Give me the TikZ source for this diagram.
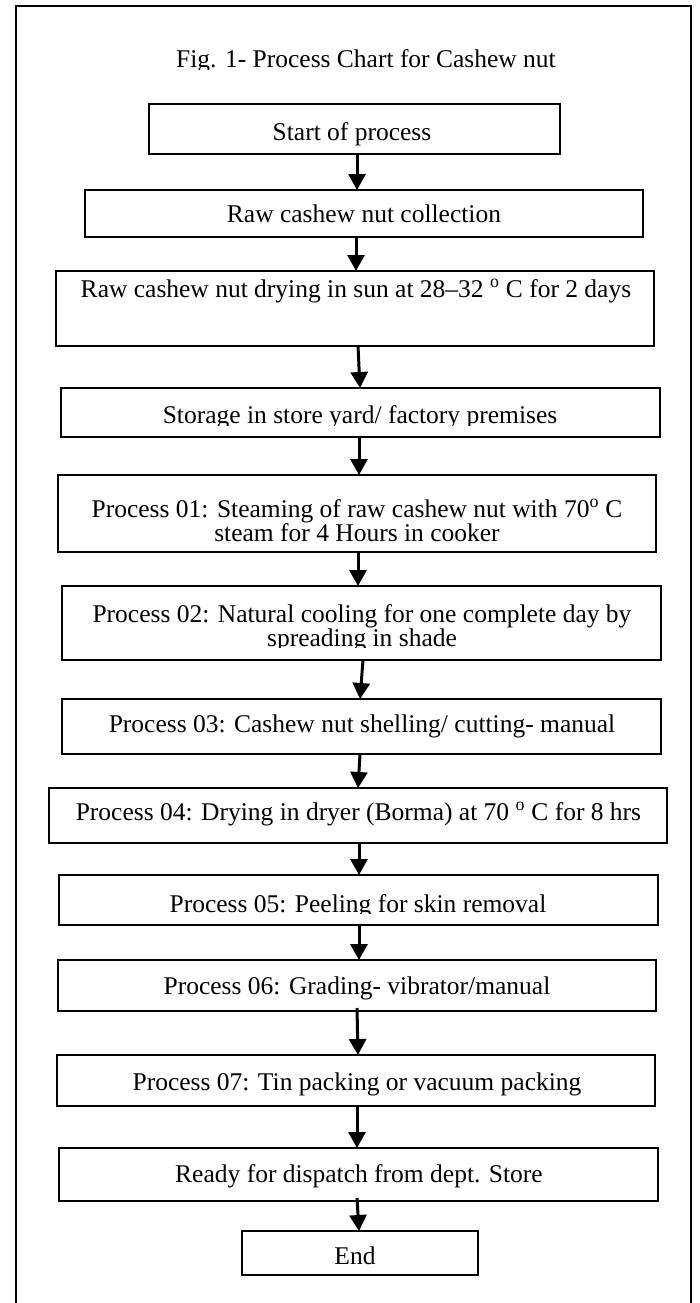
\documentclass[tikz,border=0pt]{standalone}
\usepackage{fontspec}
\setmainfont{Liberation Serif}
\usetikzlibrary{arrows.meta}
\begin{document}
\begin{tikzpicture}[x=1pt,y=-1pt,
  box/.style={draw, line width=1.6pt, rectangle, inner sep=0pt, outer sep=0pt},
  txt/.style={anchor=base, inner sep=0pt, outer sep=0pt, font=\fontsize{25.5pt}{23pt}\selectfont},
  arr/.style={line width=3pt, -{Triangle[length=16pt,width=17pt]}}]
\clip (0,0) rectangle (699,1303);
\fill[white] (0,0) rectangle (699,1303);
\draw[line width=2pt] (15.5,6) rectangle (691,1330);
% title
\begin{scope}
\clip (20,30) rectangle (680,69.5);
\node[txt] (title) at (366,68) {Fig. 1- Process Chart for Cashew nut};
\end{scope}
% boxes
\node[box, minimum width=411pt, minimum height=50pt] (start) at (354.5,129) {};
\node[box, minimum width=558pt, minimum height=47pt] (coll)  at (364,213.5) {};
\node[box, minimum width=598pt, minimum height=75pt] (dry)   at (355,308.5) {};
\node[box, minimum width=599pt, minimum height=49pt] (stor)  at (360.5,412.5) {};
\node[box, minimum width=598pt, minimum height=77pt] (p01)   at (357,513.5) {};
\node[box, minimum width=599pt, minimum height=74pt] (p02)   at (361.5,623) {};
\node[box, minimum width=599pt, minimum height=55pt] (p03)   at (361.5,726.5) {};
\node[box, minimum width=618pt, minimum height=55pt] (p04)   at (358,815.5) {};
\node[box, minimum width=599pt, minimum height=50pt] (p05)   at (358.5,900) {};
\node[box, minimum width=598pt, minimum height=51pt] (p06)   at (357,985.5) {};
\node[box, minimum width=598pt, minimum height=51pt] (p07)   at (356,1080.5) {};
\node[box, minimum width=599pt, minimum height=53pt] (ready) at (358.5,1174.5) {};
\node[box, minimum width=236pt, minimum height=44pt] (end)   at (360,1253) {};
% texts
\node[txt] (start-t) at (352,141) {Start of process};
\node[txt] (coll-t) at (364,222) {Raw cashew nut collection};
\node[txt] (dry-t) at (356,297) {Raw cashew nut drying in sun at 28–32 \textsuperscript{o} C for 2 days};
\begin{scope}
\clip (62,390) rectangle (659,425);
\node[txt] (stor-t) at (360,423) {Storage in store yard/ factory premises};
\end{scope}
\node[txt] (p01-t) at (357,517) {\begin{tabular}[t]{@{}c@{}}Process 01: Steaming of raw cashew nut with 70\textsuperscript{o} C\\ steam for 4 Hours in cooker\end{tabular}};
\begin{scope}
\clip (63,588) rectangle (660,647);
\node[txt] (p02-t) at (362,622) {\begin{tabular}[t]{@{}c@{}}Process 02: Natural cooling for one complete day by\\ spreading in shade\end{tabular}};
\end{scope}
\node[txt] (p03-t) at (362,732) {Process 03: Cashew nut shelling/ cutting- manual};
\node[txt] (p04-t) at (358.5,820) {Process 04: Drying in dryer (Borma) at 70 \textsuperscript{o} C for 8 hrs};
\begin{scope}
\clip (60,877) rectangle (657,913);
\node[txt] (p05-t) at (358,912) {Process 05: Peeling for skin removal};
\end{scope}
\node[txt] (p06-t) at (357,994) {Process 06: Grading- vibrator/manual};
\node[txt] (p07-t) at (357,1090) {Process 07: Tin packing or vacuum packing};
\node[txt] (ready-t) at (359,1182) {Ready for dispatch from dept. Store};
\begin{scope}
\clip (243,1232) rectangle (477,1264);
\node[txt] (end-t) at (355,1264) {End};
\end{scope}
% arrows
\draw[arr] (start.south -| 357,0) -- (coll.north -| 357,0);
\draw[arr] (coll.south -| 356,0) -- (dry.north -| 356,0);
\draw[arr] (dry.south -| 358,0) -- (stor.north -| 360,0);
\draw[arr] (stor.south -| 359,0) -- (p01.north -| 359,0);
\draw[arr] (p01.south -| 358,0) -- (p02.north -| 358,0);
\draw[arr] (p02.south -| 363,0) -- (p03.north -| 360,0);
\draw[arr] (p03.south -| 360,0) -- (p04.north -| 358,0);
\draw[arr] (p04.south -| 359,0) -- (p05.north -| 359,0);
\draw[arr] (p05.south -| 359,0) -- (p06.north -| 359,0);
\draw[arr] ([yshift=3pt]p06.south -| 357,0) -- (p07.north -| 358,0);
\draw[arr] (p07.south -| 357,0) -- (ready.north -| 357,0);
\draw[arr] ([yshift=3pt]ready.south -| 357,0) -- (end.north -| 359,0);
\end{tikzpicture}
\end{document}
